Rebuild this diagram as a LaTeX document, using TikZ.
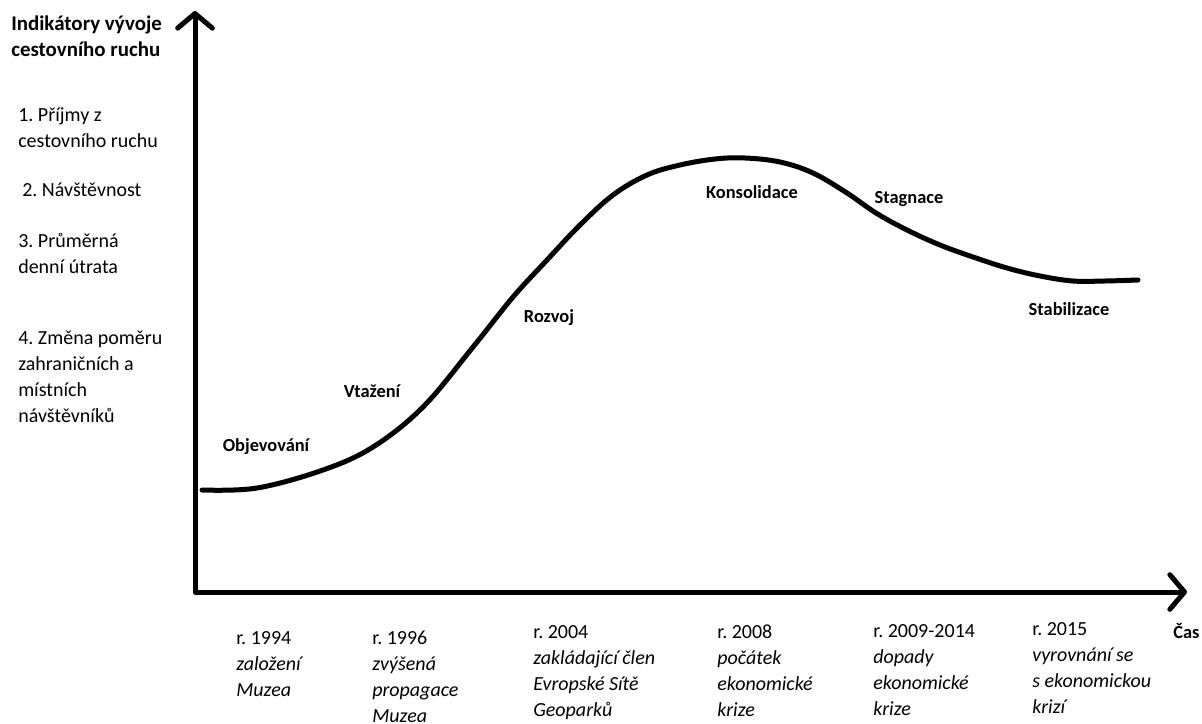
\documentclass[tikz,border=0pt]{standalone}
\usepackage{fontspec}
\setmainfont{Carlito}
\usetikzlibrary{arrows.meta, positioning}
\frenchspacing

\tikzset{
    axis/.style={line width=3.75pt, line join=round, line cap=round,
        arrows={Straight Barb[length=11pt,width=26pt,line cap=round,line join=round]-Straight Barb[length=11pt,width=26pt,line cap=round,line join=round]}},
    curve/.style={line width=3.75pt, line cap=round},
    phase/.style={font=\fontsize{13.8}{21}\selectfont\bfseries, inner sep=0pt},
    indicator/.style={font=\fontsize{15}{19.5}\selectfont, align=flush left, text width=150pt, inner sep=0pt, anchor=base west},
    event/.style={font=\fontsize{15}{19.5}\selectfont, align=flush left, text width=110pt, inner sep=0pt, anchor=base west}
}

\begin{document}
\begin{tikzpicture}[x=0.75pt, y=-0.75pt]
    \useasboundingbox (0,0) rectangle (1202,724);

    % Axes
    \coordinate (ytop) at (195,11);
    \coordinate (origin) at (195,592);
    \coordinate (xend) at (1187,592);
    \draw[axis] (ytop) -- (origin) -- (xend);

    % Life cycle curve
    \draw[curve] plot[smooth, tension=0.6] coordinates {
        (202,490) (257,488) (323,470) (373,447) (423,407) (473,347)
        (513,297) (547,260) (580,225) (613,195) (647,175) (680,165)
        (715,159) (745,158) (780,162) (813,173) (847,193) (876,213)
        (907,230) (940,245) (973,257) (1007,268) (1040,276) (1073,281)
        (1105,281) (1138,280)};

    % Phases
    \node[phase] (objev) at (266,447) {Objevování};
    \node[phase] (vtaz) at (372,391) {Vtažení};
    \node[phase] (rozvoj) at (549,318) {Rozvoj};
    \node[phase] (konsol) at (752,192) {Konsolidace};
    \node[phase] (stagn) at (909,199) {Stagnace};
    \node[phase] (stabil) at (1069,309) {Stabilizace};

    % Axis titles
    \node[phase, font=\fontsize{15.7}{19.5}\selectfont\bfseries, align=flush left,
        text width=170pt, anchor=base west] (ytitle) at (11,31)
        {Indikátory vývoje\\cestovního ruchu};
    \node[phase, anchor=base west] (xtitle) at (1173,638) {Čas};

    % Indicators
    \node[indicator] (ind1) at (18,121) {1. Příjmy z\\cestovního ruchu};
    \node[indicator] (ind2) at (22,196) {2. Návštěvnost};
    \node[indicator] (ind3) at (18,247) {3. Průměrná\\denní útrata};
    \node[indicator] (ind4) at (18,344) {4. Změna poměru\\zahraničních a\\místních\\návštěvníků};

    % Events on the time axis
    \node[event] (ev1994) at (236,644) {r. 1994\\\textit{založení}\\\textit{Muzea}};
    \node[event] (ev1996) at (372,644) {r. 1996\\\textit{zvýšená}\\\textit{propagace}\\\textit{Muzea}};
    \node[event] (ev2004) at (533,638) {r. 2004\\\textit{zakládající člen}\\\textit{Evropské Sítě}\\\textit{Geoparků}};
    \node[event] (ev2008) at (717,638) {r. 2008\\\textit{počátek}\\\textit{ekonomické}\\\textit{krize}};
    \node[event] (ev2009) at (873,637) {r. 2009-2014\\\textit{dopady}\\\textit{ekonomické}\\\textit{krize}};
    \node[event] (ev2015) at (1032,635) {r. 2015\\\textit{vyrovnání se}\\\textit{s ekonomickou}\\\textit{krizí}};
\end{tikzpicture}
\end{document}
